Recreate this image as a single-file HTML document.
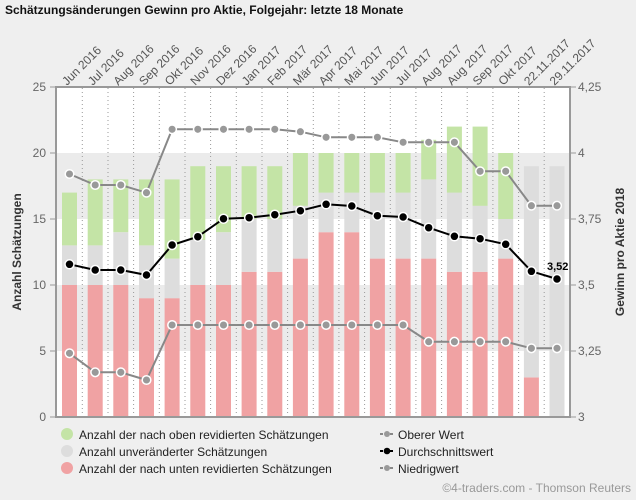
<!DOCTYPE html>
<html><head><meta charset="utf-8"><style>
html,body{margin:0;padding:0;background:#efefef;}
svg{display:block;font-family:"Liberation Sans",Arial,sans-serif;}
</style></head><body>
<svg width="636" height="500" viewBox="0 0 636 500" xmlns="http://www.w3.org/2000/svg">
<rect width="636" height="500" fill="#efefef"/>
<text x="5" y="14" font-size="12" font-weight="bold" fill="#111">Schätzungsänderungen Gewinn pro Aktie, Folgejahr: letzte 18 Monate</text>
<!-- plot background -->
<rect x="56" y="87" width="514" height="330" fill="#fff"/>
<rect x="56" y="153" width="514" height="66" fill="#ebebeb"/>
<rect x="56" y="285" width="514" height="66" fill="#ebebeb"/>
<!-- dotted separators -->
<g stroke="#999" stroke-width="1" stroke-dasharray="1,3">
<line x1="82.3" y1="88" x2="82.3" y2="416"/><line x1="108" y1="88" x2="108" y2="416"/><line x1="133.6" y1="88" x2="133.6" y2="416"/><line x1="159.3" y1="88" x2="159.3" y2="416"/><line x1="185" y1="88" x2="185" y2="416"/><line x1="210.6" y1="88" x2="210.6" y2="416"/><line x1="236.3" y1="88" x2="236.3" y2="416"/><line x1="262" y1="88" x2="262" y2="416"/><line x1="287.6" y1="88" x2="287.6" y2="416"/><line x1="313.3" y1="88" x2="313.3" y2="416"/><line x1="338.9" y1="88" x2="338.9" y2="416"/><line x1="364.6" y1="88" x2="364.6" y2="416"/><line x1="390.3" y1="88" x2="390.3" y2="416"/><line x1="415.9" y1="88" x2="415.9" y2="416"/><line x1="441.6" y1="88" x2="441.6" y2="416"/><line x1="467.2" y1="88" x2="467.2" y2="416"/><line x1="492.9" y1="88" x2="492.9" y2="416"/><line x1="518.6" y1="88" x2="518.6" y2="416"/><line x1="544.2" y1="88" x2="544.2" y2="416"/>
</g>
<!-- bars: red -->
<g fill="#f0a2a3">
<rect x="62" y="285" width="15" height="132"/><rect x="87.7" y="285" width="15" height="132"/><rect x="113.3" y="285" width="15" height="132"/><rect x="139" y="298.2" width="15" height="118.8"/><rect x="164.6" y="298.2" width="15" height="118.8"/><rect x="190.3" y="285" width="15" height="132"/><rect x="216" y="285" width="15" height="132"/><rect x="241.6" y="271.8" width="15" height="145.2"/><rect x="267.3" y="271.8" width="15" height="145.2"/><rect x="292.9" y="258.6" width="15" height="158.4"/><rect x="318.6" y="232.2" width="15" height="184.8"/><rect x="344.3" y="232.2" width="15" height="184.8"/><rect x="369.9" y="258.6" width="15" height="158.4"/><rect x="395.6" y="258.6" width="15" height="158.4"/><rect x="421.2" y="258.6" width="15" height="158.4"/><rect x="446.9" y="271.8" width="15" height="145.2"/><rect x="472.6" y="271.8" width="15" height="145.2"/><rect x="498.2" y="258.6" width="15" height="158.4"/><rect x="523.9" y="377.4" width="15" height="39.6"/>
</g>
<!-- grey -->
<g fill="#dddddd">
<rect x="62" y="245.4" width="15" height="39.6"/><rect x="87.7" y="245.4" width="15" height="39.6"/><rect x="113.3" y="232.2" width="15" height="52.8"/><rect x="139" y="245.4" width="15" height="52.8"/><rect x="164.6" y="258.6" width="15" height="39.6"/><rect x="190.3" y="240" width="15" height="45"/><rect x="216" y="232.2" width="15" height="52.8"/><rect x="241.6" y="219" width="15" height="52.8"/><rect x="267.3" y="219" width="15" height="52.8"/><rect x="292.9" y="205.8" width="15" height="52.8"/><rect x="318.6" y="192.6" width="15" height="39.6"/><rect x="344.3" y="192.6" width="15" height="39.6"/><rect x="369.9" y="192.6" width="15" height="66"/><rect x="395.6" y="192.6" width="15" height="66"/><rect x="421.2" y="179.4" width="15" height="79.2"/><rect x="446.9" y="192.6" width="15" height="79.2"/><rect x="472.6" y="205.8" width="15" height="66"/><rect x="498.2" y="219" width="15" height="39.6"/><rect x="523.9" y="166.2" width="15" height="211.2"/><rect x="549.5" y="166.2" width="15" height="250.8"/>
</g>
<!-- green -->
<g fill="#c4e4a6">
<rect x="62" y="192.6" width="15" height="52.8"/><rect x="87.7" y="179.4" width="15" height="66"/><rect x="113.3" y="179.4" width="15" height="52.8"/><rect x="139" y="179.4" width="15" height="66"/><rect x="164.6" y="179.4" width="15" height="79.2"/><rect x="190.3" y="166.2" width="15" height="73.8"/><rect x="216" y="166.2" width="15" height="66"/><rect x="241.6" y="166.2" width="15" height="52.8"/><rect x="267.3" y="166.2" width="15" height="52.8"/><rect x="292.9" y="153" width="15" height="52.8"/><rect x="318.6" y="153" width="15" height="39.6"/><rect x="344.3" y="153" width="15" height="39.6"/><rect x="369.9" y="153" width="15" height="39.6"/><rect x="395.6" y="153" width="15" height="39.6"/><rect x="421.2" y="139.8" width="15" height="39.6"/><rect x="446.9" y="126.6" width="15" height="66"/><rect x="472.6" y="126.6" width="15" height="79.2"/><rect x="498.2" y="153" width="15" height="66"/>
</g>
<!-- upper line -->
<polyline fill="none" stroke="#888" stroke-width="2" points="69.5,174 95.2,185 120.8,185 146.5,192.7 172.1,129.3 197.8,129.3 223.5,129.3 249.1,129.3 274.8,129.3 300.4,131.7 326.1,137.3 351.8,137.3 377.4,137.3 403.1,142.3 428.7,142.3 454.4,142.3 480.1,171.3 505.7,171.3 531.4,205.7 557,205.7"/>
<g fill="#999" stroke="#fff" stroke-width="1.5">
<circle cx="69.5" cy="174" r="4.3"/><circle cx="95.2" cy="185" r="4.3"/><circle cx="120.8" cy="185" r="4.3"/><circle cx="146.5" cy="192.7" r="4.3"/><circle cx="172.1" cy="129.3" r="4.3"/><circle cx="197.8" cy="129.3" r="4.3"/><circle cx="223.5" cy="129.3" r="4.3"/><circle cx="249.1" cy="129.3" r="4.3"/><circle cx="274.8" cy="129.3" r="4.3"/><circle cx="300.4" cy="131.7" r="4.3"/><circle cx="326.1" cy="137.3" r="4.3"/><circle cx="351.8" cy="137.3" r="4.3"/><circle cx="377.4" cy="137.3" r="4.3"/><circle cx="403.1" cy="142.3" r="4.3"/><circle cx="428.7" cy="142.3" r="4.3"/><circle cx="454.4" cy="142.3" r="4.3"/><circle cx="480.1" cy="171.3" r="4.3"/><circle cx="505.7" cy="171.3" r="4.3"/><circle cx="531.4" cy="205.7" r="4.3"/><circle cx="557" cy="205.7" r="4.3"/>
</g>
<!-- lower line -->
<polyline fill="none" stroke="#888" stroke-width="2" points="69.5,353.3 95.2,372.3 120.8,372.3 146.5,380 172.1,325 197.8,325 223.5,325 249.1,325 274.8,325 300.4,325 326.1,325 351.8,325 377.4,325 403.1,325 428.7,341.7 454.4,341.7 480.1,341.7 505.7,341.7 531.4,348.3 557,348.3"/>
<g fill="#999" stroke="#fff" stroke-width="1.5">
<circle cx="69.5" cy="353.3" r="4.3"/><circle cx="95.2" cy="372.3" r="4.3"/><circle cx="120.8" cy="372.3" r="4.3"/><circle cx="146.5" cy="380" r="4.3"/><circle cx="172.1" cy="325" r="4.3"/><circle cx="197.8" cy="325" r="4.3"/><circle cx="223.5" cy="325" r="4.3"/><circle cx="249.1" cy="325" r="4.3"/><circle cx="274.8" cy="325" r="4.3"/><circle cx="300.4" cy="325" r="4.3"/><circle cx="326.1" cy="325" r="4.3"/><circle cx="351.8" cy="325" r="4.3"/><circle cx="377.4" cy="325" r="4.3"/><circle cx="403.1" cy="325" r="4.3"/><circle cx="428.7" cy="341.7" r="4.3"/><circle cx="454.4" cy="341.7" r="4.3"/><circle cx="480.1" cy="341.7" r="4.3"/><circle cx="505.7" cy="341.7" r="4.3"/><circle cx="531.4" cy="348.3" r="4.3"/><circle cx="557" cy="348.3" r="4.3"/>
</g>
<!-- mean line -->
<polyline fill="none" stroke="#000" stroke-width="2" points="69.5,264.3 95.2,270 120.8,270 146.5,275 172.1,245 197.8,236.7 223.5,218.7 249.1,217.7 274.8,214.7 300.4,210.7 326.1,204.3 351.8,206 377.4,215.7 403.1,217 428.7,227.7 454.4,236.3 480.1,238.7 505.7,244.3 531.4,271.3 557,279"/>
<g fill="#000" stroke="#fff" stroke-width="1.5">
<circle cx="69.5" cy="264.3" r="4.5"/><circle cx="95.2" cy="270" r="4.5"/><circle cx="120.8" cy="270" r="4.5"/><circle cx="146.5" cy="275" r="4.5"/><circle cx="172.1" cy="245" r="4.5"/><circle cx="197.8" cy="236.7" r="4.5"/><circle cx="223.5" cy="218.7" r="4.5"/><circle cx="249.1" cy="217.7" r="4.5"/><circle cx="274.8" cy="214.7" r="4.5"/><circle cx="300.4" cy="210.7" r="4.5"/><circle cx="326.1" cy="204.3" r="4.5"/><circle cx="351.8" cy="206" r="4.5"/><circle cx="377.4" cy="215.7" r="4.5"/><circle cx="403.1" cy="217" r="4.5"/><circle cx="428.7" cy="227.7" r="4.5"/><circle cx="454.4" cy="236.3" r="4.5"/><circle cx="480.1" cy="238.7" r="4.5"/><circle cx="505.7" cy="244.3" r="4.5"/><circle cx="531.4" cy="271.3" r="4.5"/><circle cx="557" cy="279" r="4.5"/>
</g>
<text x="547" y="270" font-size="11" font-weight="bold" fill="#000">3,52</text>
<!-- axes -->
<g stroke="#999" stroke-width="2" fill="none">
<rect x="56" y="87" width="514" height="330"/>
</g>
<g stroke="#999" stroke-width="1">
<line x1="50" y1="87" x2="56" y2="87"/><line x1="50" y1="153" x2="56" y2="153"/><line x1="50" y1="219" x2="56" y2="219"/><line x1="50" y1="285" x2="56" y2="285"/><line x1="50" y1="351" x2="56" y2="351"/><line x1="50" y1="417" x2="56" y2="417"/>
<line x1="570" y1="87" x2="576" y2="87"/><line x1="570" y1="153" x2="576" y2="153"/><line x1="570" y1="219" x2="576" y2="219"/><line x1="570" y1="285" x2="576" y2="285"/><line x1="570" y1="351" x2="576" y2="351"/><line x1="570" y1="417" x2="576" y2="417"/>
</g>
<g font-size="12" fill="#666" text-anchor="end">
<text x="46" y="91">25</text><text x="46" y="157">20</text><text x="46" y="223">15</text><text x="46" y="289">10</text><text x="46" y="355">5</text><text x="46" y="421">0</text>
</g>
<g font-size="12" fill="#666">
<text x="578" y="91">4,25</text><text x="578" y="157">4</text><text x="578" y="223">3,75</text><text x="578" y="289">3,5</text><text x="578" y="355">3,25</text><text x="578" y="421">3</text>
</g>
<text transform="translate(21,252) rotate(-90)" text-anchor="middle" font-size="12" font-weight="bold" fill="#333">Anzahl Schätzungen</text>
<text transform="translate(624,252) rotate(-90)" text-anchor="middle" font-size="12" font-weight="bold" fill="#333">Gewinn pro Aktie 2018</text>
<!-- x labels -->
<g font-size="12" fill="#555">
<text transform="translate(67,86) rotate(-45)">Jun 2016</text>
<text transform="translate(92.7,86) rotate(-45)">Jul 2016</text>
<text transform="translate(118.3,86) rotate(-45)">Aug 2016</text>
<text transform="translate(144,86) rotate(-45)">Sep 2016</text>
<text transform="translate(169.6,86) rotate(-45)">Okt 2016</text>
<text transform="translate(195.3,86) rotate(-45)">Nov 2016</text>
<text transform="translate(221,86) rotate(-45)">Dez 2016</text>
<text transform="translate(246.6,86) rotate(-45)">Jan 2017</text>
<text transform="translate(272.3,86) rotate(-45)">Feb 2017</text>
<text transform="translate(297.9,86) rotate(-45)">Mär 2017</text>
<text transform="translate(323.6,86) rotate(-45)">Apr 2017</text>
<text transform="translate(349.3,86) rotate(-45)">Mai 2017</text>
<text transform="translate(374.9,86) rotate(-45)">Jun 2017</text>
<text transform="translate(400.6,86) rotate(-45)">Jul 2017</text>
<text transform="translate(426.2,86) rotate(-45)">Aug 2017</text>
<text transform="translate(451.9,86) rotate(-45)">Aug 2017</text>
<text transform="translate(477.6,86) rotate(-45)">Sep 2017</text>
<text transform="translate(503.2,86) rotate(-45)">Okt 2017</text>
<text transform="translate(528.9,86) rotate(-45)">22.11.2017</text>
<text transform="translate(554.5,86) rotate(-45)">29.11.2017</text>
</g>
<!-- legend -->
<circle cx="67" cy="434" r="6" fill="#c4e4a6"/>
<circle cx="67" cy="451" r="6" fill="#dddddd"/>
<circle cx="67" cy="468" r="6" fill="#f0a2a3"/>
<g font-size="12" fill="#222">
<text x="79" y="439">Anzahl der nach oben revidierten Schätzungen</text>
<text x="79" y="456">Anzahl unveränderter Schätzungen</text>
<text x="79" y="473">Anzahl der nach unten revidierten Schätzungen</text>
<text x="398" y="439">Oberer Wert</text>
<text x="398" y="456">Durchschnittswert</text>
<text x="398" y="473">Niedrigwert</text>
</g>
<g stroke-width="2">
<line x1="380" y1="434" x2="394" y2="434" stroke="#888" stroke-dasharray="3,2"/>
<line x1="380" y1="451" x2="394" y2="451" stroke="#000" stroke-dasharray="3,2"/>
<line x1="380" y1="468" x2="394" y2="468" stroke="#888" stroke-dasharray="3,2"/>
</g>
<circle cx="387" cy="434" r="3" fill="#999"/>
<circle cx="387" cy="451" r="3.3" fill="#000"/>
<circle cx="387" cy="468" r="3" fill="#999"/>
<text x="631" y="492" text-anchor="end" font-size="12" fill="#999">©4-traders.com - Thomson Reuters</text>
</svg>
</body></html>
